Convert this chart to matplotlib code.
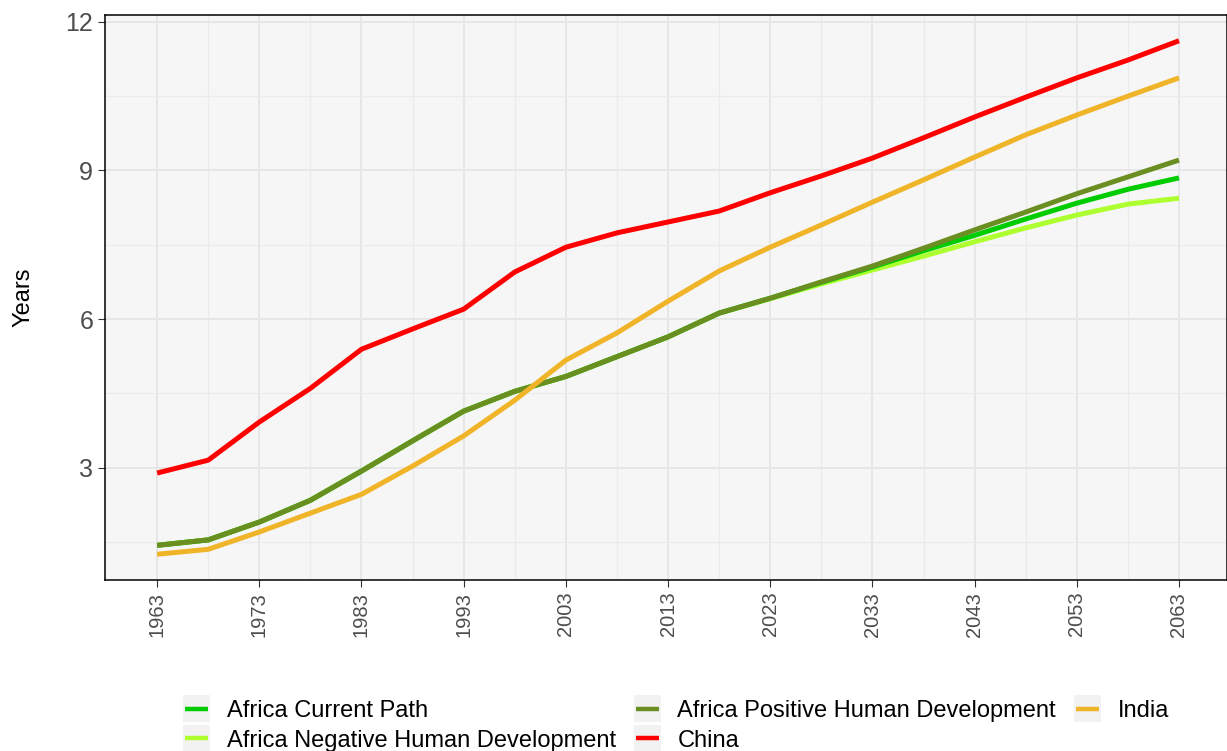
import numpy as np
import matplotlib.pyplot as plt
from matplotlib.lines import Line2D
from matplotlib.patches import Rectangle
from matplotlib.legend_handler import HandlerBase

plt.rcParams['font.family'] = ['Liberation Sans', 'DejaVu Sans']

# Years (5-year steps) and mean years of schooling per series
years = [1963, 1968, 1973, 1978, 1983, 1988, 1993, 1998, 2003, 2008, 2013,
         2018, 2023, 2028, 2033, 2038, 2043, 2048, 2053, 2058, 2063]

china = [2.89, 3.15, 3.92, 4.60, 5.39, 5.80, 6.20, 6.95, 7.45, 7.74, 7.96,
         8.18, 8.55, 8.89, 9.25, 9.66, 10.08, 10.48, 10.87, 11.23, 11.62]
india = [1.25, 1.35, 1.70, 2.08, 2.46, 3.03, 3.64, 4.36, 5.17, 5.72, 6.36,
         6.97, 7.45, 7.90, 8.36, 8.81, 9.27, 9.72, 10.12, 10.50, 10.87]
africa_pos = [1.43, 1.54, 1.90, 2.34, 2.93, 3.54, 4.14, 4.54, 4.84, 5.24, 5.64,
              6.12, 6.42, 6.75, 7.07, 7.43, 7.80, 8.16, 8.53, 8.87, 9.21]
africa_cur = [1.43, 1.54, 1.90, 2.34, 2.93, 3.54, 4.14, 4.54, 4.84, 5.24, 5.64,
              6.12, 6.42, 6.74, 7.05, 7.38, 7.69, 8.02, 8.34, 8.62, 8.85]
africa_neg = [1.43, 1.54, 1.90, 2.34, 2.93, 3.54, 4.14, 4.54, 4.84, 5.24, 5.64,
              6.12, 6.41, 6.71, 6.99, 7.27, 7.56, 7.84, 8.10, 8.32, 8.44]

series = [
    ("Africa Current Path", africa_cur, "#00cc00"),
    ("Africa Negative Human Development", africa_neg, "#adff2f"),
    ("Africa Positive Human Development", africa_pos, "#6b8e23"),
    ("China", china, "#ff0000"),
    ("India", india, "#f0b428"),
]
draw_order = ["Africa Negative Human Development", "Africa Current Path",
              "Africa Positive Human Development", "India", "China"]


class KeyHandler(HandlerBase):
    # ggplot-style key: grey square with a short thick line across it
    def create_artists(self, legend, orig_handle, xdescent, ydescent,
                       width, height, fontsize, trans):
        cy = height / 2 - ydescent
        half = 9.8
        bg = Rectangle((-xdescent, cy - half), width, 2 * half,
                       facecolor="#f2f2f2", edgecolor="none", transform=trans)
        ln = Line2D([-xdescent + 0.08 * width, -xdescent + 0.92 * width],
                    [cy, cy], color=orig_handle.get_color(), lw=3.2,
                    solid_capstyle="butt", transform=trans)
        return [bg, ln]


fig = plt.figure(figsize=(12.27, 7.51), dpi=100)
ax = fig.add_axes([105 / 1227, 1 - 580 / 751, 1122 / 1227, 565 / 751])
ax.set_facecolor("#f6f6f6")

lookup = {name: (vals, col) for name, vals, col in series}
for name in draw_order:
    vals, col = lookup[name]
    ax.plot(years, vals, color=col, lw=3.6, solid_capstyle="butt",
            solid_joinstyle="round", zorder=3)

ax.set_xlim(1957.9, 2067.7)
ax.set_ylim(0.73, 12.14)
ax.set_xticks(np.arange(1963, 2064, 10))
ax.set_xticks(np.arange(1968, 2064, 10), minor=True)
ax.set_yticks([3, 6, 9, 12])
ax.set_yticks([1.5, 4.5, 7.5, 10.5], minor=True)
ax.grid(which="major", color="#e6e6e6", lw=1.4, zorder=0)
ax.grid(which="minor", color="#ebebeb", lw=0.9, zorder=0)
ax.tick_params(axis="x", which="major", labelrotation=90, labelsize=14.5,
               labelcolor="#4d4d4d", length=5, color="#333333")
ax.tick_params(axis="y", which="major", labelsize=18, labelcolor="#4d4d4d",
               length=5, color="#333333")
ax.tick_params(which="minor", length=0)
for sp in ax.spines.values():
    sp.set_color("black")
    sp.set_linewidth(1.1)
ax.set_ylabel("Years", fontsize=17)
ax.yaxis.set_label_coords(-0.063, 0.5)

handles = [Line2D([0], [0], color=col, lw=4) for _, _, col in series]
labels = [name for name, _, _ in series]
leg = fig.legend(handles, labels, loc="lower center", ncol=3,
                 bbox_to_anchor=(0.551, -0.029), frameon=False, fontsize=17,
                 handlelength=1.15, handletextpad=0.7, columnspacing=0.75,
                 labelspacing=0.32, handler_map={Line2D: KeyHandler()})

fig.savefig("out.png", dpi=100)
